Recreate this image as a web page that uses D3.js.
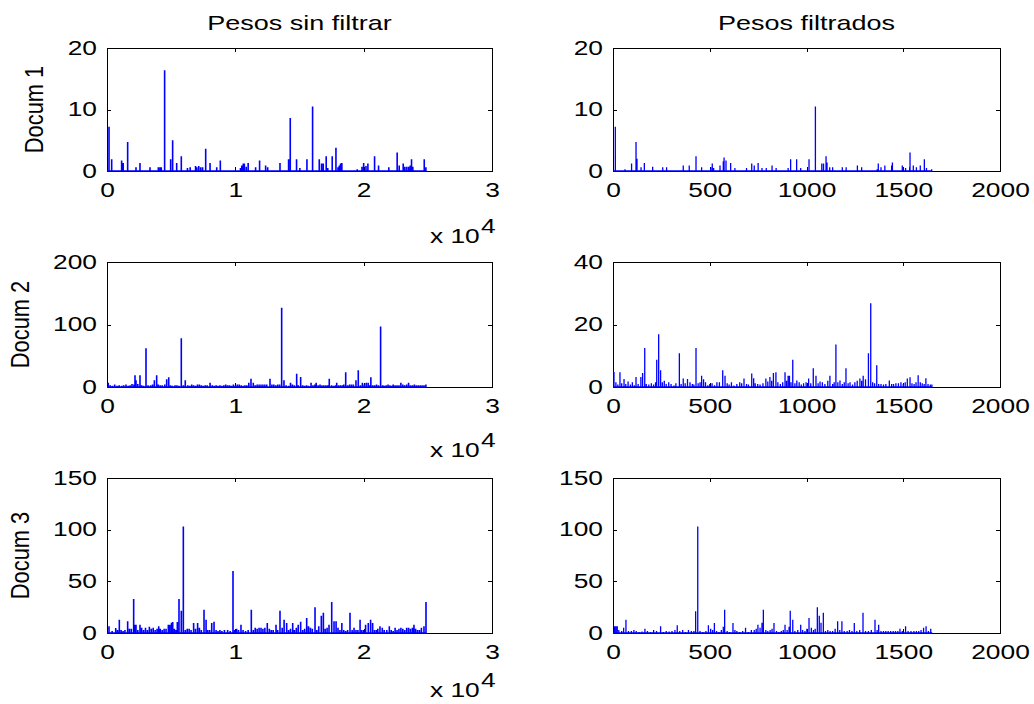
<!DOCTYPE html>
<html>
<head>
<meta charset="utf-8">
<script src="https://cdn.jsdelivr.net/npm/d3@7"></script>
<style>
  html, body { margin: 0; padding: 0; background: #fff; }
  svg { display: block; }
  text { font-family: "Liberation Sans", Arial, Helvetica, sans-serif; fill: #000; }
</style>
</head>
<body>
<svg id="fig" width="1034" height="704"></svg>
<script>
// ---- data: term index -> weight, for each document (raw and filtered vocabularies) ----
const columnTitles = ["Pesos sin filtrar", "Pesos filtrados"];
const rowLabels = ["Docum 1", "Docum 2", "Docum 3"];

const rawLength = 24900;      // size of the unfiltered vocabulary
const filteredLength = 1650;  // size of the filtered vocabulary

const rawTicks = [0, 10000, 20000, 30000];
const rawTickLabels = ["0", "1", "2", "3"];
const filteredTicks = [0, 500, 1000, 1500, 2000];
const filteredTickLabels = ["0", "500", "1000", "1500", "2000"];

const yTicksDoc1 = [0, 10, 20];
const yTicksDoc2Raw = [0, 100, 200];
const yTicksDoc2Filtered = [0, 20, 40];
const yTicksDoc3 = [0, 50, 100, 150];

const doc1Raw = [[156,7.2],[365,1.9],[1140,1.7],[1260,1.3],[1610,4.7],[2260,0.6],[2570,1.3],[3350,0.6],[4000,0.6],[4130,0.6],[4230,0.6],[4490,16.4],[4960,1.9],[5115,5.0],[5430,1.3],[5790,2.4],[6270,0.5],[6480,0.6],[6900,0.8],[7000,0.6],[7150,0.8],[7300,0.6],[7450,0.6],[7690,3.6],[8030,1.3],[8550,0.6],[8830,1.7],[10400,0.5],[10500,0.9],[10620,1.2],[10700,1.2],[10850,0.7],[11000,1.3],[11580,0.6],[11890,1.7],[12360,0.9],[12520,0.6],[13480,1.3],[14150,1.9],[14280,8.6],[14770,1.9],[15030,0.5],[15580,1.9],[16020,10.5],[16540,1.9],[16720,1.2],[16850,1.2],[17080,2.4],[17200,0.5],[17550,2.4],[17840,3.8],[18000,0.6],[18100,0.9],[18200,1.2],[18300,1.3],[19500,0.3],[19870,0.7],[20000,1.3],[20180,0.8],[20330,1.2],[20850,2.4],[21160,0.9],[21960,0.6],[22610,3.0],[22770,0.9],[23080,1.2],[23200,0.7],[23350,0.7],[23500,0.7],[23630,0.9],[23730,1.9],[23830,0.7],[24720,1.9],[24850,0.6]];

const doc1Filtered = [[12,7.2],[62,0.3],[96,1.2],[119,4.7],[124,2.0],[145,0.6],[162,1.3],[205,0.7],[257,0.6],[277,0.6],[363,0.9],[394,0.9],[429,2.4],[458,0.6],[505,0.6],[513,1.2],[520,0.5],[553,0.9],[570,1.6],[574,2.2],[584,1.7],[608,1.3],[630,0.5],[690,0.5],[717,1.2],[730,0.9],[750,1.3],[770,0.5],[792,0.5],[822,0.9],[843,0.5],[905,0.5],[918,1.9],[949,1.9],[970,0.5],[1013,1.9],[1046,10.5],[1079,1.2],[1088,1.2],[1101,2.4],[1106,1.4],[1120,0.6],[1135,0.6],[1185,0.6],[1205,0.6],[1263,0.9],[1285,0.6],[1365,0.3],[1371,1.2],[1385,0.6],[1405,0.9],[1440,0.9],[1444,1.4],[1495,0.9],[1512,0.5],[1533,0.6],[1535,3.0],[1552,0.9],[1568,0.6],[1588,0.9],[1609,1.9],[1620,0.5],[1647,0.3]];

const doc2Raw = [[100,7],[250,3],[420,2],[600,4],[780,2],[950,3],[1150,2],[1300,3],[1480,4],[1650,2],[1800,3],[1950,5],[2100,4],[2182,18.8],[2260,10.7],[2400,5],[2571,18.8],[2700,3],[2850,2],[3039,62],[3200,3],[3400,3],[3550,4],[3690,10.7],[3870,18.8],[4000,4],[4150,3],[4300,3],[4500,4],[4650,12.3],[4810,15.5],[4950,3],[5100,2],[5300,3],[5450,3],[5600,2],[5790,78],[5950,3],[6100,10.7],[6300,3],[6450,2],[6600,4],[6750,3],[6900,2],[7050,4],[7200,4],[7350,3],[7500,2],[7650,3],[7800,3],[8030,7],[8200,3],[8350,2],[8500,3],[8650,2],[8800,3],[8950,2],[9100,3],[9250,4],[9400,3],[9550,3],[9700,2],[9850,4],[10000,2],[10150,4],[10300,4],[10450,3],[10600,2],[10750,3],[10900,3],[11050,7],[11220,13.4],[11400,7],[11550,3],[11700,4],[11850,4],[12000,4],[12150,4],[12300,4],[12450,4],[12700,13.4],[12850,4],[13000,4],[13150,3],[13300,4],[13450,4],[13610,127],[13790,10.7],[13950,3],[14150,2],[14300,7],[14450,4],[14600,3],[14780,21.4],[14900,3],[15090,16],[15250,3],[15400,2],[15550,3],[15700,2],[15900,7],[16050,3],[16200,4],[16300,7],[16450,3],[16600,4],[16750,3],[16900,3],[17050,3],[17200,3],[17320,13.4],[17500,3],[17650,2],[17800,3],[17900,7],[18050,3],[18200,3],[18350,3],[18450,4],[18600,23.6],[18750,3],[18900,4],[19050,4],[19200,4],[19400,10.7],[19580,26.8],[19750,3],[19900,7],[20050,4],[20200,7],[20350,7],[20450,3],[20560,15.5],[20700,3],[20850,3],[21000,4],[21150,3],[21320,97],[21480,3],[21600,2],[21750,3],[21900,4],[22050,3],[22200,2],[22300,4],[22450,3],[22600,3],[22750,3],[22900,7],[23050,4],[23200,3],[23350,4],[23500,7],[23650,3],[23800,3],[23950,4],[24100,3],[24250,3],[24400,3],[24550,3],[24700,3],[24850,4]];

const doc2Filtered = [[5,4.8],[15,1.5],[25,0.8],[36,4.7],[45,1.2],[57,2.6],[66,1.0],[78,1.8],[90,0.8],[100,1.5],[110,0.6],[119,3.2],[130,1.0],[144,3.2],[153,4.5],[164,12.5],[172,1.0],[185,0.8],[198,1.2],[210,0.8],[220,1.5],[226,8.7],[236,16.9],[246,5.4],[255,1.5],[265,2.0],[275,1.0],[288,1.5],[300,1.0],[315,0.5],[325,1.2],[343,10.8],[352,1.0],[363,2.7],[373,1.2],[385,2.6],[398,1.5],[410,1.0],[418,0.8],[429,12.5],[440,1.2],[450,1.5],[458,3.6],[468,2.5],[478,1.5],[490,0.6],[500,1.0],[512,1.2],[525,0.6],[537,1.5],[550,1.5],[567,5.4],[579,3.6],[590,1.2],[600,0.8],[612,1.5],[625,0.5],[640,1.0],[655,1.5],[665,1.2],[677,2.7],[690,1.0],[700,0.8],[717,4.3],[727,2.8],[735,1.2],[748,1.0],[760,0.8],[775,1.2],[790,2.7],[800,1.8],[811,3.2],[820,2.0],[829,4.5],[842,4.7],[852,1.5],[865,1.0],[877,1.5],[889,4.7],[897,2.0],[905,3.6],[912,3.6],[920,1.5],[929,8.7],[940,1.2],[950,2.1],[962,1.5],[973,0.8],[985,1.2],[998,1.5],[1011,2.7],[1022,1.2],[1035,6.0],[1049,3.6],[1060,1.2],[1070,1.8],[1082,1.5],[1095,1.0],[1110,2.0],[1121,3.6],[1135,1.0],[1143,1.5],[1152,13.6],[1162,1.5],[1173,2.1],[1185,1.0],[1195,1.5],[1204,6.0],[1215,1.2],[1225,1.5],[1238,0.8],[1250,1.5],[1262,2.0],[1276,2.7],[1285,2.0],[1293,3.6],[1305,2.5],[1320,10.8],[1332,26.8],[1342,1.5],[1352,1.2],[1363,7.0],[1373,1.0],[1385,1.0],[1398,0.8],[1410,1.0],[1428,2.1],[1440,1.0],[1450,1.0],[1462,1.2],[1475,1.2],[1488,1.5],[1500,1.0],[1510,1.5],[1521,2.7],[1535,3.1],[1545,1.2],[1556,1.0],[1566,1.5],[1577,3.8],[1588,1.5],[1598,1.2],[1608,1.0],[1617,2.8],[1628,1.0],[1640,0.8],[1648,0.8]];

const doc3Raw = [[156,6.5],[400,2],[680,4.8],[820,3],[960,12.9],[1100,3],[1250,2],[1400,3],[1610,11.3],[1750,4],[1900,4],[2078,33],[2180,8],[2260,8],[2400,3],[2570,8],[2700,5],[2850,3],[3000,5],[3150,3],[3300,6],[3450,4],[3600,5],[3750,3],[3900,4],[4030,6.5],[4150,4],[4300,3],[4450,4],[4600,4],[4780,8],[4900,8],[5030,10],[5120,10.6],[5250,4],[5380,3],[5480,10.6],[5610,33],[5790,21.6],[5948,103],[6100,3],[6250,4],[6400,4],[6550,3],[6750,9.7],[6900,4],[7060,9.7],[7200,5],[7350,3],[7560,22.6],[7720,12.9],[7850,3],[8000,3],[8160,9.7],[8340,11],[8500,3],[8650,2],[8800,3],[8950,2],[9150,3],[9400,3],[9600,2],[9818,60],[9950,3],[10100,4],[10250,3],[10440,8],[10600,3],[10800,2],[11000,3],[11245,22.6],[11400,3],[11550,5],[11700,4],[11850,5],[12000,5],[12150,4],[12300,5],[12490,9.7],[12650,4],[12800,3],[12950,3],[13170,8],[13300,3],[13480,21.6],[13650,5],[13800,12.9],[14000,9.7],[14150,3],[14300,4],[14470,9.7],[14600,3],[14750,5],[14900,8],[15090,11],[15250,3],[15400,4],[15560,14.5],[15700,6.5],[15850,5],[16000,4],[16210,24.8],[16350,3],[16500,6.5],[16700,16.8],[16860,19.7],[17000,4],[17150,5],[17300,8],[17510,30],[17690,11.3],[17850,11.3],[18000,5],[18150,3],[18300,9.7],[18450,3],[18600,2],[18750,3],[18935,19.7],[19100,3],[19250,5],[19400,3],[19550,3],[19720,12.9],[19850,3],[20000,3],[20150,8],[20360,9.7],[20540,12.9],[20700,9.7],[20850,3],[21000,3],[21100,4],[21270,6.5],[21450,5],[21600,3],[21800,3],[22000,6.5],[22150,3],[22300,2],[22450,5],[22600,3],[22750,4],[22900,5],[23050,4],[23200,3],[23350,5],[23500,5],[23650,4],[23800,5],[23920,8],[24050,4],[24200,3],[24350,3],[24500,5],[24700,6.5],[24857,30]];

const doc3Filtered = [[8,6.5],[15,6.5],[22,6.5],[30,3],[45,2],[55,5],[67,12.9],[80,2],[95,2],[108,3],[120,2],[135,1],[150,1.5],[165,4],[178,2],[195,1],[210,3],[225,2],[246,6.5],[260,1],[275,2],[290,1.5],[305,2],[320,3],[332,7.4],[345,2],[360,3],[375,1],[390,3],[405,2],[418,2],[427,21],[438,103],[450,2],[465,1],[480,2],[493,7.4],[505,4],[515,3],[524,9.7],[535,2],[548,1],[560,3],[570,6],[577,22.6],[590,2],[603,1],[620,9.7],[630,3],[640,2],[655,1],[670,2],[685,5],[700,1],[715,3],[730,3],[740,4],[749,8],[760,5],[770,10],[777,22.6],[790,3],[800,2],[812,3],[822,4],[832,9.7],[845,2],[858,1],[870,2],[880,3],[889,8],[900,3],[910,6],[916,21.6],[929,12.9],[940,2],[955,3],[970,8],[980,3],[992,2],[1002,4],[1013,14.5],[1025,5],[1036,3],[1045,4],[1056,24.8],[1066,16.8],[1075,10],[1087,19.7],[1098,2],[1110,3],[1122,2],[1135,2],[1148,4],[1161,11.3],[1172,3],[1183,11.3],[1195,2],[1210,2],[1222,3],[1235,2],[1247,9.7],[1260,2],[1275,3],[1292,19.7],[1305,2],[1320,2],[1335,3],[1354,12.9],[1365,3],[1373,8],[1385,2],[1398,2],[1410,2],[1422,2],[1435,2],[1448,2],[1460,2],[1472,2],[1483,4],[1495,2],[1512,6.5],[1525,2],[1540,2],[1555,2],[1568,2],[1580,2],[1592,3],[1605,5],[1618,6.5],[1630,2],[1642,4]];

// ---- layout ----
const svg = d3.select("#fig");
const FONT = 19.5;      // tick / label font size
const SX = 1.35;        // horizontal stretch of the figure text
const BLUE = "#0000ff";

const colBox = [{x0: 107, x1: 492}, {x0: 613, x1: 1000}];
const rowBox = [{y0: 48, y1: 171}, {y0: 262, y1: 387}, {y0: 478, y1: 633}];
const expBaseline = [243, 457, 697];

const panels = [
  {row: 0, col: 0, data: doc1Raw,      yTicks: yTicksDoc1},
  {row: 0, col: 1, data: doc1Filtered, yTicks: yTicksDoc1},
  {row: 1, col: 0, data: doc2Raw,      yTicks: yTicksDoc2Raw},
  {row: 1, col: 1, data: doc2Filtered, yTicks: yTicksDoc2Filtered},
  {row: 2, col: 0, data: doc3Raw,      yTicks: yTicksDoc3},
  {row: 2, col: 1, data: doc3Filtered, yTicks: yTicksDoc3}
];

function stretchText(sel, gap) {
  sel.attr("transform", `scale(${SX},1)`)
     .style("font-size", FONT + "px")
     .attr("fill", "#000");
  if (gap !== undefined) sel.attr("x", gap / SX);
}

panels.forEach(p => {
  const cb = colBox[p.col], rb = rowBox[p.row];
  const isRaw = p.col === 0;
  const x = d3.scaleLinear()
    .domain([0, isRaw ? 30000 : 2000])
    .range([cb.x0, cb.x1]);
  const y = d3.scaleLinear()
    .domain([0, p.yTicks[p.yTicks.length - 1]])
    .range([rb.y1, rb.y0]);
  const xt = isRaw ? rawTicks : filteredTicks;
  const xl = isRaw ? rawTickLabels : filteredTickLabels;

  const g = svg.append("g");

  // axes box
  g.append("rect")
    .attr("x", cb.x0).attr("y", rb.y0)
    .attr("width", cb.x1 - cb.x0).attr("height", rb.y1 - rb.y0)
    .attr("fill", "none").attr("stroke", "#000").attr("stroke-width", 1)
    .attr("shape-rendering", "crispEdges");

  // bottom axis with inward ticks
  const gb = g.append("g").attr("transform", `translate(0,${rb.y1})`)
    .call(d3.axisBottom(x).tickValues(xt).tickFormat((d, i) => xl[i])
      .tickSize(-4).tickPadding(12));
  gb.select(".domain").remove();
  gb.selectAll("line").attr("stroke", "#000").attr("shape-rendering", "crispEdges");
  stretchText(gb.selectAll("text").attr("font-family", null));

  // top axis, ticks only
  const gt = g.append("g").attr("transform", `translate(0,${rb.y0})`)
    .call(d3.axisTop(x).tickValues(xt).tickFormat("").tickSize(-4));
  gt.select(".domain").remove();
  gt.selectAll("line").attr("stroke", "#000").attr("shape-rendering", "crispEdges");

  // left axis with inward ticks
  const gl = g.append("g").attr("transform", `translate(${cb.x0},0)`)
    .call(d3.axisLeft(y).tickValues(p.yTicks).tickFormat(d3.format("d"))
      .tickSize(-4).tickPadding(9));
  gl.select(".domain").remove();
  gl.selectAll("line").attr("stroke", "#000").attr("shape-rendering", "crispEdges");
  stretchText(gl.selectAll("text").attr("font-family", null), -10);

  // right axis, ticks only
  const gr = g.append("g").attr("transform", `translate(${cb.x1},0)`)
    .call(d3.axisRight(y).tickValues(p.yTicks).tickFormat("").tickSize(-4));
  gr.select(".domain").remove();
  gr.selectAll("line").attr("stroke", "#000").attr("shape-rendering", "crispEdges");

  // weight series: baseline at zero with a stem at each weighted term
  const end = isRaw ? rawLength : filteredLength;
  const pts = [[0, 0]];
  p.data.forEach(([i, v]) => { pts.push([i, 0], [i, v], [i, 0]); });
  pts.push([end, 0]);
  const line = d3.line().x(d => x(d[0])).y(d => y(d[1]));
  g.append("path")
    .attr("d", line(pts))
    .attr("fill", "none")
    .attr("stroke", BLUE)
    .attr("stroke-width", isRaw ? 1.6 : 1.3)
    .attr("stroke-linejoin", "bevel");

  // ×10^4 multiplier under the unfiltered panels
  if (isRaw) {
    const t = svg.append("text")
      .attr("transform", `translate(${cb.x1 - 62},${expBaseline[p.row]}) scale(${SX},1)`)
      .style("font-size", FONT + "px");
    t.append("tspan").text("x 10");
    t.append("tspan").attr("dy", -10).attr("dx", 1).text("4");
  }

  // column titles
  if (p.row === 0) {
    svg.append("text")
      .attr("transform", `translate(${(cb.x0 + cb.x1) / 2},30) scale(${SX},1)`)
      .attr("text-anchor", "middle")
      .style("font-size", "20px")
      .text(columnTitles[p.col]);
  }

  // row labels
  if (p.col === 0) {
    const lx = p.row === 0 ? 43 : 29;
    svg.append("text")
      .attr("transform", `translate(${lx},${(rb.y0 + rb.y1) / 2}) scale(${SX},1.12) rotate(-90)`)
      .attr("text-anchor", "middle")
      .style("font-size", FONT + "px")
      .text(rowLabels[p.row]);
  }
});
</script>
</body>
</html>
